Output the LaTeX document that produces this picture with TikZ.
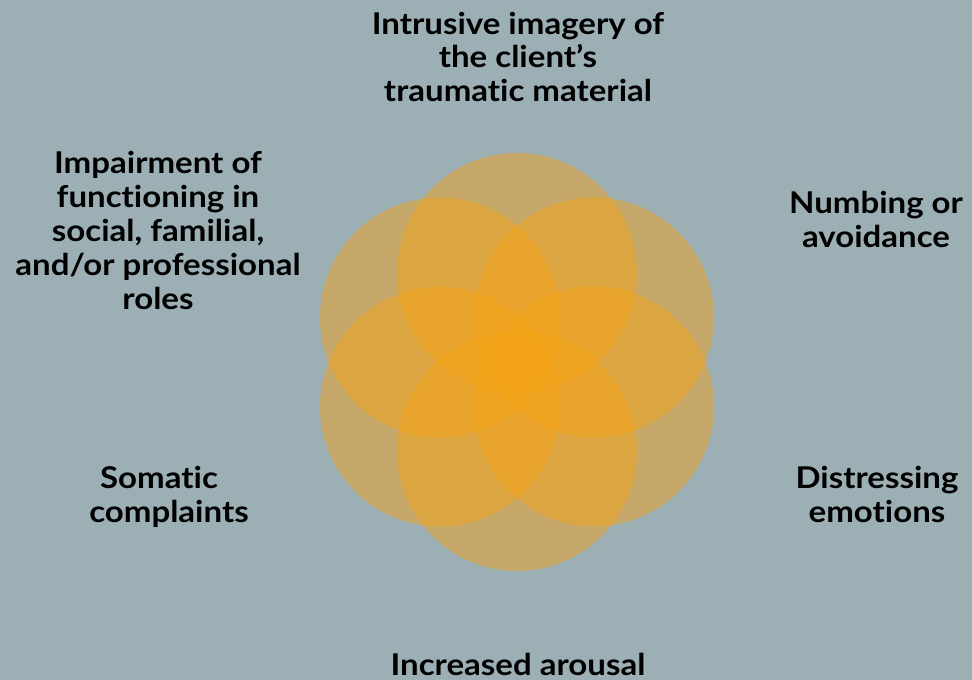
\documentclass[tikz,border=0pt]{standalone}
\usepackage{fontspec}
\setmainfont[Ligatures={NoCommon}, FakeStretch=1.1]{Lato}
\usetikzlibrary{calc}
\definecolor{bgc}{RGB}{156,175,181}
\definecolor{petal}{RGB}{245,162,20}
\tikzset{
  petalcirc/.style={fill=petal, fill opacity=0.47, draw=none},
  lbl/.style={font=\fontsize{30}{34}\selectfont\bfseries, align=center, inner sep=0pt, anchor=base, text=black}
}
\begin{document}
\begin{tikzpicture}[x=1pt,y=-1pt]
\fill[bgc] (0,0) rectangle (972,680);
\useasboundingbox (0,0) rectangle (972,680);
\coordinate (c) at (517,362);
\foreach \a in {90,30,-30,-90,-150,150} {
  \fill[petalcirc] ($(c)+(\a:89)$) circle[radius=120];
}
\node[lbl, font=\fontsize{30}{33.5}\selectfont\bfseries] (top) at (518,101) {Intrusive imagery of\\the client’s\\traumatic material};
\node[lbl] (imp) at (158,309) {Impairment of\\functioning in\\social, familial,\\and/or professional\\roles};
\node[lbl] (numb) at (876,247) {Numbing or\\avoidance};
\node[lbl] (dist) at (877,522) {Distressing\\emotions};
\node[lbl] (som) at (169,522) {Somatic\hspace*{20pt}\\complaints};
\node[lbl] (inc) at (518,675) {Increased arousal};
\end{tikzpicture}
\end{document}
